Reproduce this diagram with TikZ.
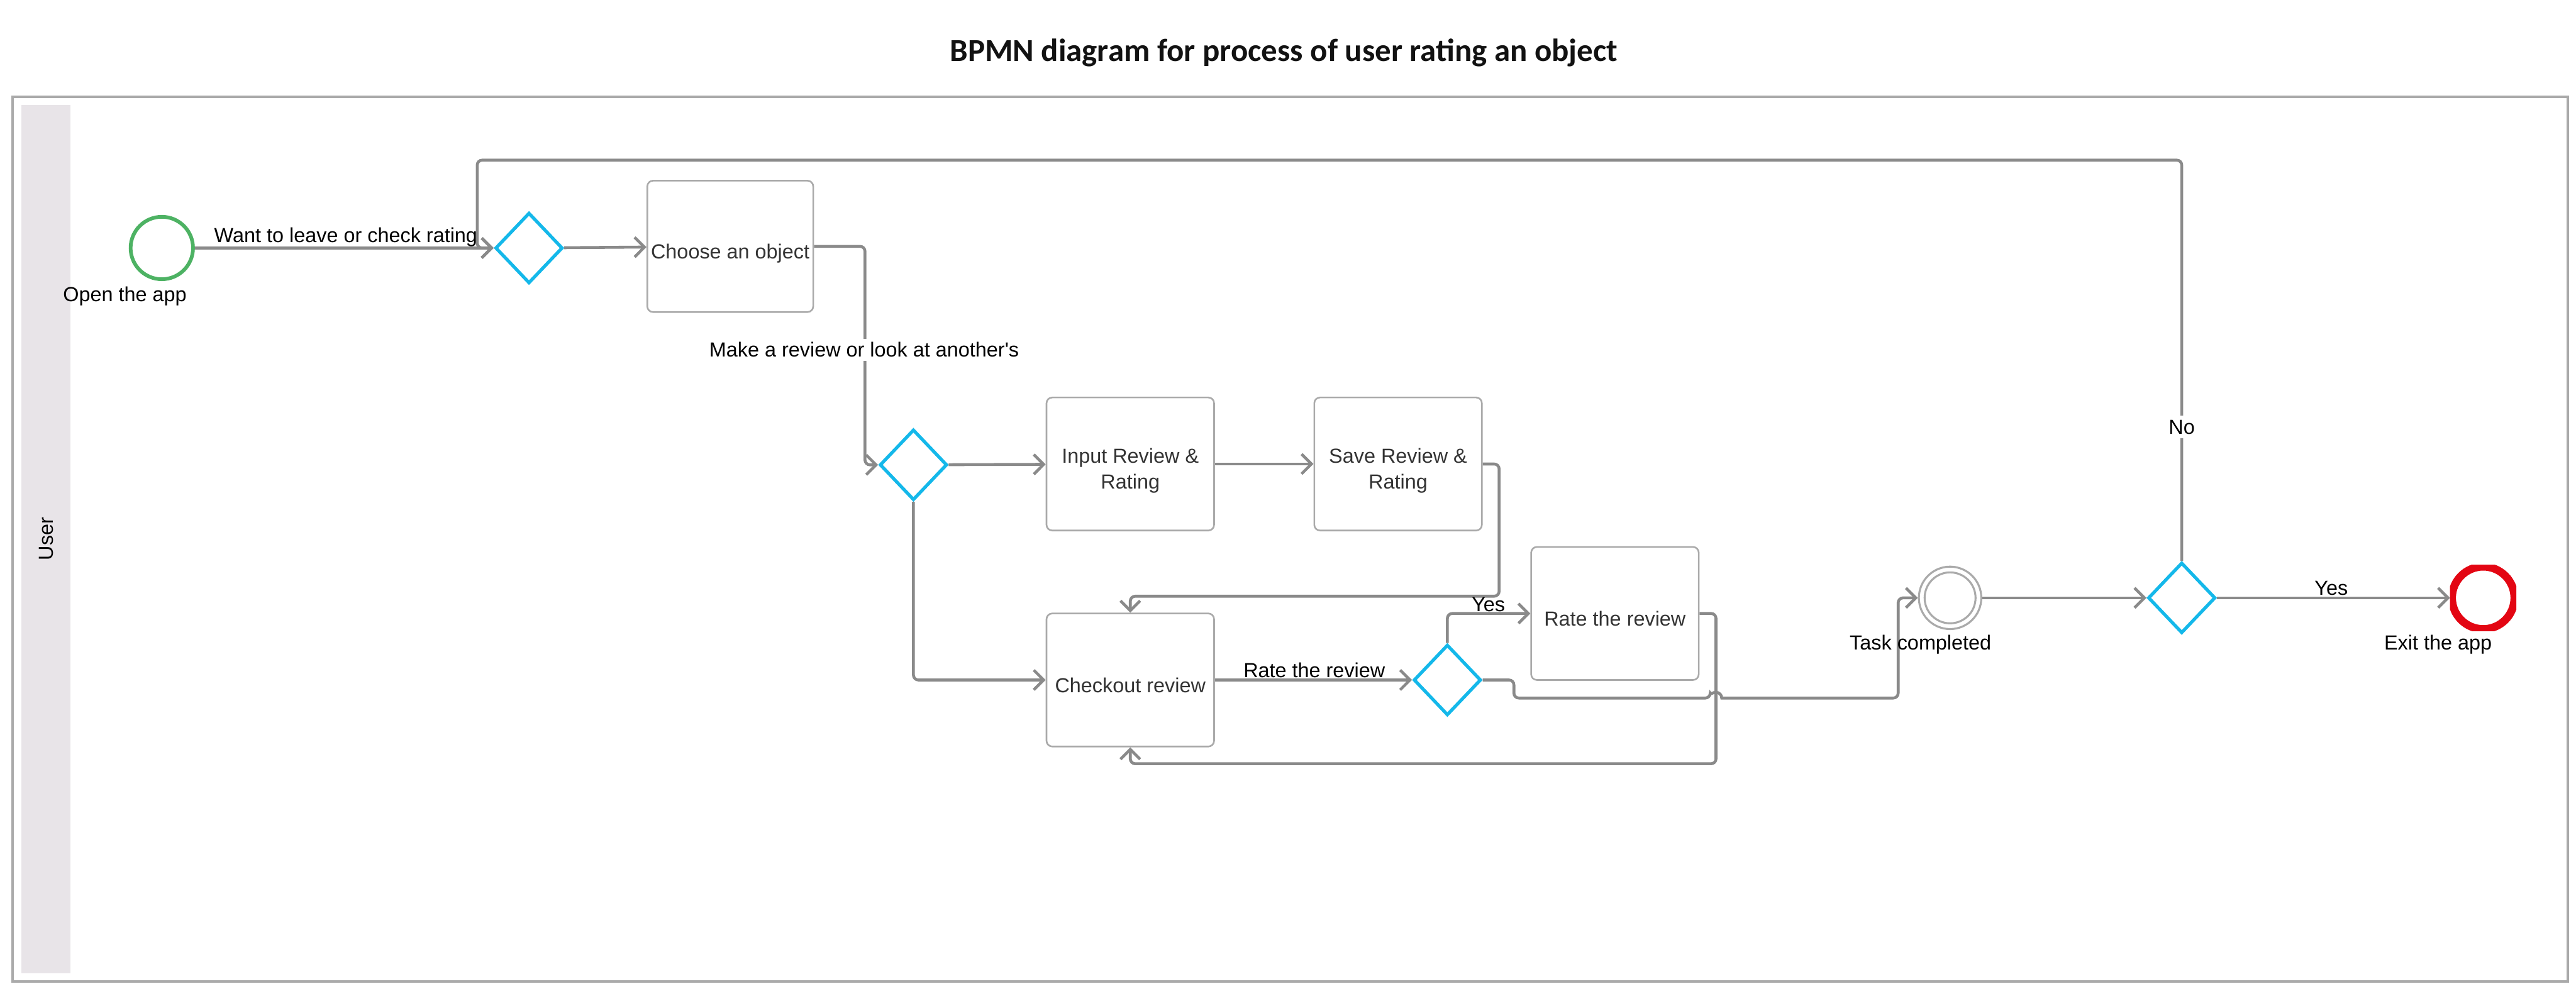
\documentclass[tikz,border=0pt]{standalone}
\usepackage{fontspec}
\setmainfont{Liberation Sans}
\newfontfamily\plainfont{Liberation Sans}[Ligatures=ResetAll]
\newfontfamily\titlefont{Carlito}
\usetikzlibrary{arrows.meta,shapes.geometric,calc}
\definecolor{flowc}{HTML}{8A8A8A}
\definecolor{boxc}{HTML}{AAAAAA}
\definecolor{poolc}{HTML}{AAAAAA}
\definecolor{lanec}{HTML}{E8E4E8}
\definecolor{gatec}{HTML}{14B8EA}
\definecolor{startc}{HTML}{4DB263}
\definecolor{endc}{HTML}{E30613}
\definecolor{txtc}{HTML}{333333}
\tikzset{
  lbl/.style={font=\fontsize{12.4}{15}\selectfont, text=black, inner sep=0pt},
  taskbox/.style={draw=boxc, line width=1pt, rounded corners=3.5pt, fill=white,
    minimum width=101pt, minimum height=80pt, inner sep=0pt, align=center,
    text=txtc, font=\fontsize{12.4}{15.5}\selectfont, text height=15pt, text depth=0pt},
  twoline/.style={text height=30pt, text depth=0pt},
  gateway/.style={diamond, draw=gatec, line width=2pt, fill=white,
    minimum width=41pt, minimum height=43pt, inner sep=0pt},
  flow/.style={draw=flowc, line width=1.75pt, rounded corners=3pt,
    -{Straight Barb[length=6pt,width=12pt]}},
}
\begin{document}
\begin{tikzpicture}[x=1pt,y=-1pt]
\useasboundingbox (0,0) rectangle (1568,599);
\fill[white] (0,0) rectangle (1568,599);
% title
\node[font=\titlefont\bfseries\fontsize{19.5}{23}\selectfont, text=black!93] (title) at (781.5,32) {BPMN diagram for process of user rating an object};
% pool and lane
\draw[poolc, line width=1.5pt] (7.5,59) rectangle (1563,597.5);
\fill[lanec] (13,64) rectangle (43,592.5);
\node[lbl, rotate=90] (user) at (28,328) {User};
% events
\node[circle, draw=startc, line width=2.25pt, minimum size=38pt, inner sep=0pt] (start) at (98.5,151) {};
\node[circle, draw=boxc, line width=1.2pt, minimum size=38pt, inner sep=0pt] (task) at (1187,364) {};
\draw[boxc, line width=1.2pt] (task.center) circle[radius=15.5pt];
\node[rectangle, minimum width=40pt, minimum height=40pt, inner sep=0pt] (end) at (1511.5,364) {};
\begin{scope}
\clip (end.south west) rectangle (end.north east);
\draw[endc, line width=4.8pt] (end.center) circle[radius=19pt];
\end{scope}
% gateways
\node[gateway] (gw1) at (322,151) {};
\node[gateway] (gw2) at (556,283) {};
\node[gateway] (gw3) at (881,414) {};
\node[gateway] (gw4) at (1328,364) {};
% tasks
\node[taskbox] (choose) at (444.5,150) {Choose an object};
\node[taskbox, twoline, minimum width=102pt, minimum height=81pt] (input) at (688,282.5) {Input Review \&\\Rating};
\node[taskbox, twoline, minimum width=102pt, minimum height=81pt] (save) at (851,282.5) {Save Review \&\\Rating};
\node[taskbox, minimum width=102pt, minimum height=81pt] (checkout) at (688,414) {Checkout review};
\node[taskbox, minimum width=102pt, minimum height=81pt] (rate) at (983,373.5) {Rate the review};
% flows
\draw[flow] (start) -- (gw1);
\draw[flow] (gw1) -- (choose);
\draw[flow] (choose.east) -- ++(31,0) |- (gw2.west);
\draw[flow] (gw2) -- (input);
\draw[flow] (input) -- (save);
\draw[flow] (save.east) -- ++(10,0) |- ($(checkout.north)+(0,-10)$) -- (checkout.north);
\draw[flow] (gw2.south) |- (checkout.west);
\draw[flow] (checkout.east) -- (gw3.west);
\draw[flow] (gw3.north) |- (rate.west);
\coordinate (rx) at ($(rate.east)+(10,0)$);
\draw[flow] (rate.east) -- (rx) |- ($(checkout.south)+(0,10)$) -- (checkout.south);
\draw[flow] (gw3.east) -- ++(19,0) -- ++(0,11) coordinate (j0)
  -- ($(j0 -| rx)+(-3.5,0)$) [sharp corners] arc[start angle=180, end angle=0, radius=3.5pt] [rounded corners=3pt]
  -- ($(j0 -| task.west)+(-12,0)$) |- (task.west);
\draw[flow] (task) -- (gw4);
\draw[flow] (gw4) -- (end);
\draw[flow] (gw4.north) -- ++(0,-244) -| ($(gw1.west)+(-10,0)$) -- (gw1.west);
% labels
\node[lbl] (lwant) at (210.5,144.5) {Want to leave or check rating};
\node[lbl, fill=white, inner sep=2pt] (lmake) at (526,213) {\plainfont Make a review or look at another's};
\node[lbl, fill=white, inner sep=2.5pt] (lno) at (1328,260) {No};
\node[lbl] (lyes1) at (906,368) {Yes};
\node[lbl] (lrate) at (800,408) {Rate the review};
\node[lbl] (lyes2) at (1419,358) {Yes};
\node[lbl] (lopen) at (76,180.5) {Open the app};
\node[lbl] (ltask) at (1169,392.5) {Task completed};
\node[lbl] (lexit) at (1484,392.5) {Exit the app};
\end{tikzpicture}
\end{document}
